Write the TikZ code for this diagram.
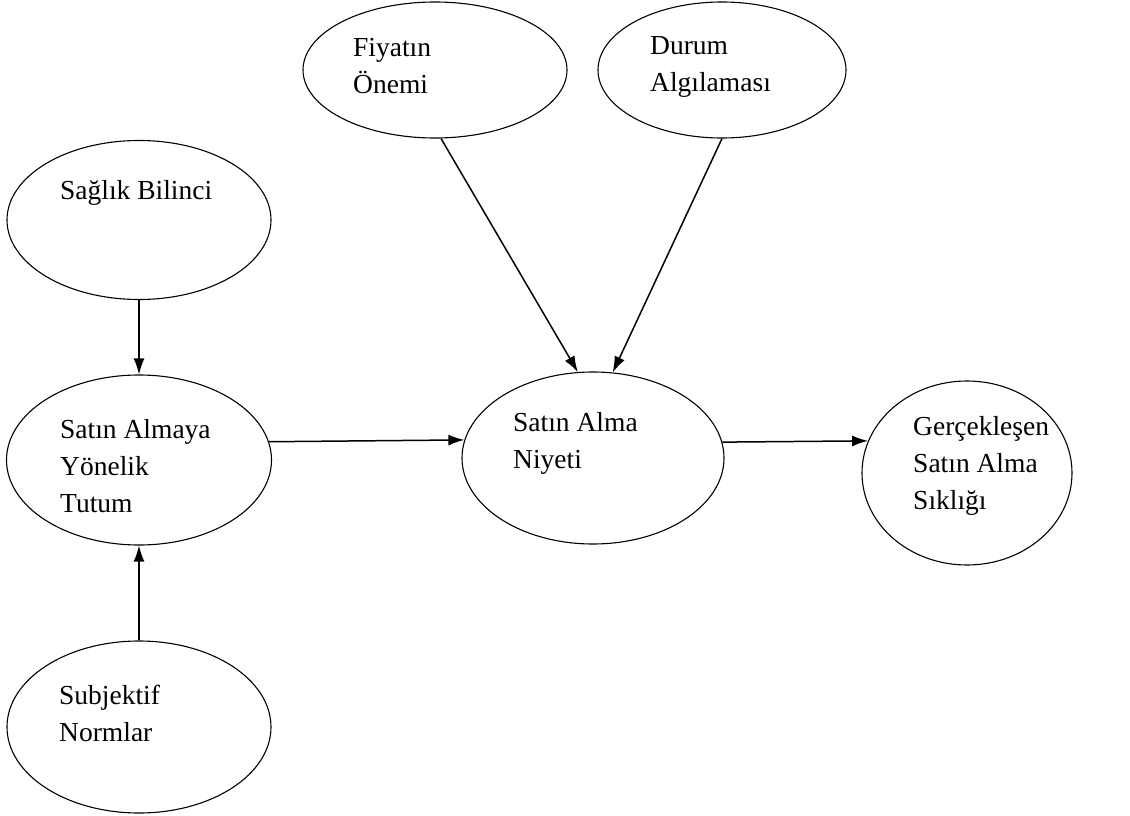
\documentclass[tikz,border=0pt]{standalone}
\usepackage{fontspec}
\setmainfont{Liberation Serif}
\usetikzlibrary{shapes,arrows.meta}

\begin{document}
\begin{tikzpicture}[x=1pt, y=-1pt,
	oval/.style={ellipse, draw, line width=1.1pt, inner sep=0pt},
	yazi/.style={align=left, inner sep=0pt, anchor=west, font=\fontsize{27.5}{37}\selectfont},
	ok/.style={line width=1.5pt, -{Latex[length=16pt, width=11pt]}}]
\useasboundingbox (0,0) rectangle (1130,816);
% ovals
\node[oval, minimum width=264, minimum height=136] (fiyat) at (435,70) {};
\node[oval, minimum width=248, minimum height=136] (durum) at (722,70) {};
\node[oval, minimum width=264, minimum height=159] (saglik) at (139,220) {};
\node[oval, minimum width=265, minimum height=170] (tutum) at (139,460) {};
\node[oval, minimum width=264, minimum height=172] (subjektif) at (139,727) {};
\node[oval, minimum width=262, minimum height=172] (niyet) at (593,458) {};
\node[oval, minimum width=210, minimum height=184] (gercek) at (967,473) {};
% texts
\node[yazi] (fiyatT) at (353,66) {Fiyatın\\Önemi};
\node[yazi] (durumT) at (650,67) {Durum\\Algılaması};
\node[yazi] (saglikT) at (60,193) {Sağlık Bilinci};
\node[yazi] (tutumT) at (60,466) {Satın Almaya\\Yönelik\\Tutum};
\node[yazi] (subjektifT) at (59,713) {Subjektif\\Normlar};
\node[yazi] (niyetT) at (513,443) {Satın Alma\\Niyeti};
\node[yazi] (gercekT) at (913,466) {Gerçekleşen\\Satın Alma\\Sıklığı};
% arrows
\draw[ok] (saglik) -- (tutum);
\draw[ok] (subjektif) -- (tutum);
\draw[ok] (tutum.8) -- (niyet.172);
\draw[ok] (niyet.7) -- (gercek.162);
\draw[ok] (fiyat.275) -- (niyet.100);
\draw[ok] (durum.south) -- (niyet.77);
\end{tikzpicture}
\end{document}
